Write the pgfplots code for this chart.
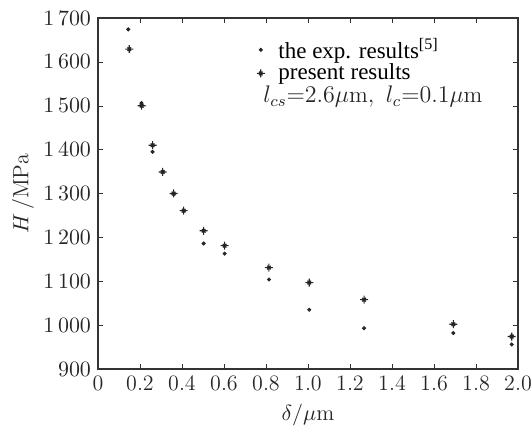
\documentclass[border=0pt]{standalone}
\usepackage{pgfplots}
\pgfplotsset{compat=1.18}
\usepackage{fontspec}
\newfontfamily\timesrm{Liberation Serif}
\newcommand\lblsize{\fontsize{11}{13}\selectfont}
\newcommand\legsize{\fontsize{11.5}{13}\selectfont}

% plus with a small cross in the middle
\pgfdeclareplotmark{plusx}{%
  \pgfpathmoveto{\pgfqpoint{-\pgfplotmarksize}{0pt}}%
  \pgfpathlineto{\pgfqpoint{\pgfplotmarksize}{0pt}}%
  \pgfpathmoveto{\pgfqpoint{0pt}{-\pgfplotmarksize}}%
  \pgfpathlineto{\pgfqpoint{0pt}{\pgfplotmarksize}}%
  \pgfpathmoveto{\pgfqpoint{-0.45\pgfplotmarksize}{-0.45\pgfplotmarksize}}%
  \pgfpathlineto{\pgfqpoint{0.45\pgfplotmarksize}{0.45\pgfplotmarksize}}%
  \pgfpathmoveto{\pgfqpoint{-0.45\pgfplotmarksize}{0.45\pgfplotmarksize}}%
  \pgfpathlineto{\pgfqpoint{0.45\pgfplotmarksize}{-0.45\pgfplotmarksize}}%
  \pgfusepathqstroke}

\begin{document}
\begin{tikzpicture}
\begin{axis}[
    scale only axis,
    width=210pt, height=175.5pt,
    xmin=0, xmax=2.0,
    ymin=900, ymax=1700,
    xtick={0,0.2,0.4,0.6,0.8,1.0,1.2,1.4,1.6,1.8,2.0},
    xticklabels={0,0.2,0.4,0.6,0.8,1.0,1.2,1.4,1.6,1.8,2.0},
    ytick={900,1000,...,1700},
    yticklabel style={/pgf/number format/1000 sep={\,}},
    tick align=inside,
    major tick length=2.5pt,
    axis line style={black!80, line width=0.6pt},
    tick style={black!80},
    tick label style={font=\lblsize, black!85},
    label style={font=\lblsize, black!85},
    xlabel={$\delta/\mu\mathrm{m}$},
    ylabel={$H\,/\mathrm{MPa}$},
    xlabel style={yshift=0.5pt},
    ylabel style={yshift=-2pt},
    legend style={at={(0.367,0.96)}, anchor=north west, draw=none, fill=none,
                  font=\timesrm\legsize, row sep=-2.7pt,
                  inner sep=1pt},
    legend image code/.code={%
      \draw[#1] plot coordinates {(0.1cm,0cm)};
      \path (0cm,0cm) (0.33cm,0cm);},
    legend cell align=left,
  ]
\addplot[only marks, mark=*, mark size=0.8pt, black!85] coordinates {
  (0.144,1674) (0.207,1506) (0.260,1395) (0.308,1350) (0.360,1298)
  (0.408,1260) (0.503,1186) (0.603,1163) (0.814,1104) (1.006,1035)
  (1.267,993) (1.692,982) (1.970,956)};
\addlegendentry{the exp. results\textsuperscript{[5]}}
\addplot[only marks, mark=plusx, mark size=2pt, black!85, line width=0.55pt] coordinates {
  (0.149,1629) (0.208,1500) (0.260,1410) (0.308,1349) (0.360,1300)
  (0.408,1261) (0.503,1215) (0.603,1181) (0.814,1131) (1.006,1097)
  (1.267,1058) (1.692,1002) (1.970,974)};
\addlegendentry{present results}
\node[anchor=west, font=\legsize, black!85, inner sep=0pt] at (axis cs:0.786,1520)
  {$l_{cs}{=}2.6\mu\mathrm{m},\ l_{c}{=}0.1\mu\mathrm{m}$};
\end{axis}
\pgfresetboundingbox
\path[use as bounding box]
  ([xshift=-49pt,yshift=-31.5pt]current axis.south west)
  rectangle ([xshift=7pt,yshift=9pt]current axis.north east);
\end{tikzpicture}
\end{document}
